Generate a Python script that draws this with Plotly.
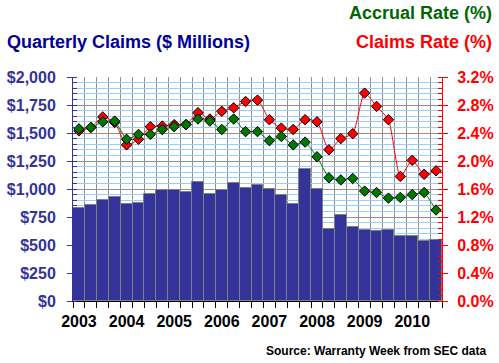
import plotly.graph_objects as go

quarters = [f"{y}Q{q}" for y in range(2003, 2011) for q in range(1, 5)][:31]
claims = [828, 855, 899, 926, 866, 875, 953, 989, 989, 971, 1060, 953, 994, 1051, 1006, 1038,
          996, 946, 866, 1176, 997, 643, 765, 658, 631, 622, 631, 578, 578, 539, 545]
claims_rate = [2.43, 2.48, 2.63, 2.55, 2.23, 2.31, 2.49, 2.50, 2.52, 2.52, 2.69, 2.60, 2.71, 2.76,
               2.85, 2.87, 2.59, 2.47, 2.45, 2.59, 2.56, 2.16, 2.32, 2.39, 2.97, 2.78, 2.59, 1.78,
               2.01, 1.81, 1.86]
accrual_rate = [2.46, 2.48, 2.56, 2.57, 2.31, 2.38, 2.38, 2.45, 2.49, 2.52, 2.60, 2.57, 2.45, 2.60,
                2.42, 2.42, 2.29, 2.35, 2.23, 2.27, 2.06, 1.76, 1.73, 1.75, 1.57, 1.55, 1.47, 1.48,
                1.52, 1.55, 1.30]
year_labels = ["2003", "2004", "2005", "2006", "2007", "2008", "2009", "2010"]

xs = list(range(len(quarters)))
year_pos = [quarters.index(f"{y}Q1") for y in year_labels]

FONT = "Arial, Liberation Sans, sans-serif"
NAVY = "#333399"

fig = go.Figure()
fig.add_trace(go.Bar(x=xs, y=claims, width=1, marker=dict(color=NAVY, line=dict(color="#808080", width=1)),
                     name="Quarterly Claims", yaxis="y"))
fig.add_trace(go.Scatter(x=xs, y=claims_rate, mode="lines+markers", yaxis="y2", name="Claims Rate",
                         line=dict(color="#FF0000", width=1, shape="spline", smoothing=0.6),
                         marker=dict(symbol="diamond", size=8, color="#FF0000", line=dict(color="black", width=1))))
fig.add_trace(go.Scatter(x=xs, y=accrual_rate, mode="lines+markers", yaxis="y2", name="Accrual Rate",
                         line=dict(color="#008000", width=1, shape="spline", smoothing=0.3),
                         marker=dict(symbol="diamond", size=8, color="#007700", line=dict(color="black", width=1))))

fig.update_layout(
    width=499, height=363, margin=dict(l=73, r=57, t=77, b=62),
    paper_bgcolor="white", plot_bgcolor="white", showlegend=False,
    font=dict(family=FONT),
    bargap=0,
    xaxis=dict(range=[-0.5, len(xs) - 0.5], tickvals=year_pos, ticktext=year_labels,
               ticks="", showgrid=False, zeroline=False, automargin=False,
               showline=True, linecolor="black", linewidth=1,
               tickfont=dict(family=FONT, size=16, color="black", weight="bold"),
               ticklabelstandoff=6,
               minor=dict(tick0=-0.5, dtick=1, ticks="outside", ticklen=6, tickcolor="black",
                          showgrid=True, gridcolor="#909090", gridwidth=1)),
    yaxis=dict(range=[0, 2000], dtick=250, tickprefix="$", tickformat=",", automargin=False,
               showline=True, linecolor=NAVY, linewidth=1,
               ticks="outside", ticklen=5, tickcolor=NAVY,
               tickfont=dict(family=FONT, size=16, color=NAVY, weight="bold"),
               ticklabelstandoff=8,
               showgrid=True, gridcolor="#909090", gridwidth=1, zeroline=False,
               minor=dict(dtick=50, ticks="inside", ticklen=4, tickcolor=NAVY,
                          showgrid=True, gridcolor="#99CCFF", gridwidth=1)),
    yaxis2=dict(range=[0, 3.2], dtick=0.4, tickformat=".1f", ticksuffix="%", automargin=False,
                overlaying="y", side="right", showgrid=False, zeroline=False,
                showline=True, linecolor="#FF0000", linewidth=1,
                ticks="outside", ticklen=5, tickcolor="#FF0000",
                tickfont=dict(family=FONT, size=16, color="#FF0000", weight="bold"),
                ticklabelstandoff=6,
                minor=dict(dtick=0.08, ticks="inside", ticklen=4, tickcolor="#FF0000", showgrid=False)),
)

fig.add_annotation(text="Quarterly Claims ($ Millions)", xref="paper", yref="paper",
                   x=(5 - 73) / 369, y=(301 - 42) / 224, xanchor="left", yanchor="middle",
                   showarrow=False, font=dict(family=FONT, size=18, color="#000099", weight="bold"))
fig.add_annotation(text="Accrual Rate (%)", xref="paper", yref="paper",
                   x=(494 - 73) / 369, y=(301 - 13) / 224, xanchor="right", yanchor="middle",
                   showarrow=False, font=dict(family=FONT, size=18, color="#006600", weight="bold"))
fig.add_annotation(text="Claims Rate (%)", xref="paper", yref="paper",
                   x=(494 - 73) / 369, y=(301 - 42) / 224, xanchor="right", yanchor="middle",
                   showarrow=False, font=dict(family=FONT, size=18, color="#FF0000", weight="bold"))
fig.add_annotation(text="Source: Warranty Week from SEC data", xref="paper", yref="paper",
                   x=(488 - 73) / 369, y=(301 - 351) / 224, xanchor="right", yanchor="middle",
                   showarrow=False, font=dict(family=FONT, size=12, color="black", weight="bold"))

fig.write_html("out.html", config={"displayModeBar": False},
               post_script="document.body.style.margin='0';document.body.style.padding='0';"
                           "document.documentElement.style.overflow='hidden';")
